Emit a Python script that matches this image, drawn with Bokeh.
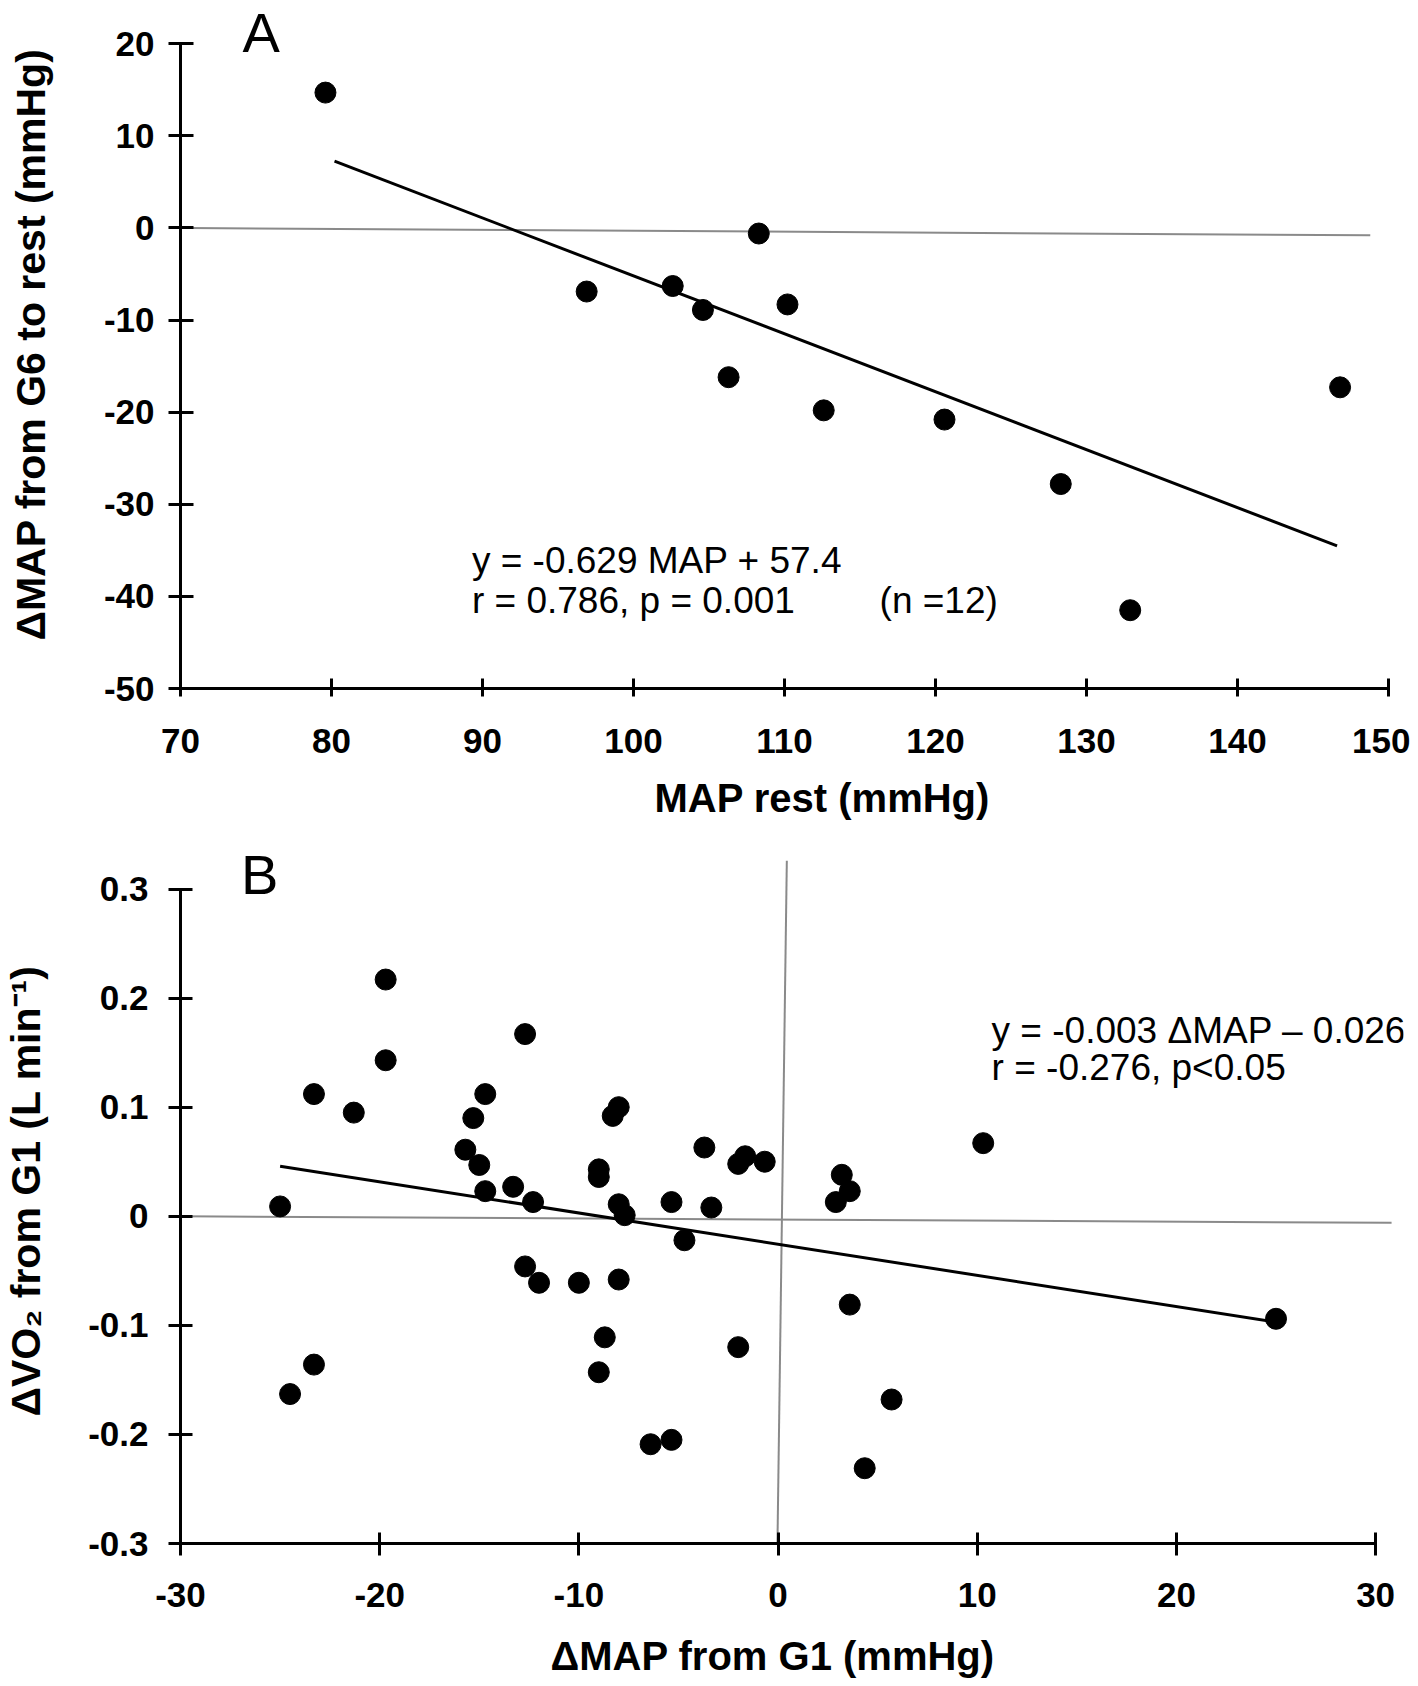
from bokeh.plotting import figure
from bokeh.models import Label, FixedTicker, PrintfTickFormatter, Range1d, Title
from bokeh.layouts import column
from bokeh.embed import file_html
from bokeh.resources import INLINE

# ---------------- Panel A data ----------------
map_rest = [79.6, 96.9, 102.6, 104.6, 106.3, 108.3, 110.2, 112.6, 120.6, 128.3, 132.9, 146.8]
dmap_g6 = [14.7, -6.9, -6.3, -8.9, -16.2, -0.6, -8.3, -19.8, -20.8, -27.8, -41.5, -17.3]
fit_a_slope = -0.629
fit_a_intercept = 57.7
fit_a_x = [80.2, 146.6]
zero_a_x = [70.5, 148.8]
zero_a_y = [0.0, -0.8]
ticks_a_x = [70, 80, 90, 100, 110, 120, 130, 140, 150]
ticks_a_y = [-50, -40, -30, -20, -10, 0, 10, 20]

# ---------------- Panel B data ----------------
dmap_g1 = [-25.0, -24.5, -23.3, -23.3, -21.3, -19.7, -19.7, -15.7, -15.3, -15.0,
           -14.7, -14.7, -13.3, -12.7, -12.7, -12.3, -12.0, -10.0, -9.0, -9.0,
           -9.0, -8.7, -8.3, -8.0, -8.0, -8.0, -7.7, -6.4, -5.35, -5.35,
           -4.7, -3.7, -3.35, -2.0, -2.0, -1.65, -0.67, 2.9, 3.2, 3.6,
           3.6, 4.35, 5.7, 10.3, 25.0]
dvo2_g1 = [0.009, -0.163, 0.112, -0.136, 0.095, 0.217, 0.143, 0.061, 0.090, 0.047,
           0.112, 0.023, 0.027, 0.167, -0.046, 0.013, -0.061, -0.061, 0.043, 0.036,
           -0.143, -0.111, 0.092, 0.100, 0.011, -0.058, 0.001, -0.209, 0.013, -0.205,
           -0.022, 0.063, 0.008, 0.048, -0.120, 0.055, 0.050, 0.013, 0.038, 0.023,
           -0.081, -0.231, -0.168, 0.067, -0.094]
fit_b_slope = -0.00286
fit_b_intercept = -0.0256
fit_b_x = [-25.0, 25.0]
zero_b_x = [-30.0, 30.8]
zero_b_y = [0.0, -0.006]
vert_b_x = [0.44, -0.03]
vert_b_y = [0.326, -0.3]
ticks_b_x = [-30, -20, -10, 0, 10, 20, 30]
ticks_b_y = [-0.3, -0.2, -0.1, 0, 0.1, 0.2, 0.3]

FONT = "Liberation Sans"


def style_axis(ax, tin, tout, standoff, label_standoff=None):
    ax.axis_line_width = 3
    ax.axis_line_color = "black"
    ax.major_tick_line_width = 3
    ax.major_tick_line_color = "black"
    ax.major_tick_in = tin
    ax.major_tick_out = tout
    ax.minor_tick_line_color = None
    ax.major_label_standoff = standoff
    ax.major_label_text_font = FONT
    ax.major_label_text_font_style = "bold"
    ax.major_label_text_font_size = "35px"
    ax.major_label_text_color = "black"
    ax.axis_label_text_font = FONT
    ax.axis_label_text_font_style = "bold"
    ax.axis_label_text_font_size = "41px"
    ax.axis_label_text_color = "black"
    if label_standoff is not None:
        ax.axis_label_standoff = label_standoff


def text_label(x, y, text, size, align="left"):
    return Label(x=x, y=y, text=text, text_align=align, text_baseline="alphabetic",
                 text_font=FONT, text_font_size=size, text_color="black")


def title(text, align, offset, standoff, size):
    return Title(text=text, align=align, offset=offset, standoff=standoff,
                 text_font=FONT, text_font_style="bold", text_font_size=size,
                 text_color="black")


# ================= Panel A =================
pa = figure(frame_width=1223, frame_height=688, x_range=Range1d(70, 151),
            y_range=Range1d(-50, 24.7), output_backend="svg", toolbar_location=None,
            min_border_left=177, min_border_right=10, min_border_top=0, min_border_bottom=150)
pa.grid.visible = False
pa.outline_line_color = None

pa.xaxis.ticker = FixedTicker(ticks=ticks_a_x)
pa.yaxis.ticker = FixedTicker(ticks=ticks_a_y)
pa.xaxis.formatter = PrintfTickFormatter(format="%d")
pa.yaxis.formatter = PrintfTickFormatter(format="%d")
pa.xaxis.bounds = (70, 150)
pa.yaxis.bounds = (-50, 20)
style_axis(pa.xaxis[0], 10, 8, 32)
style_axis(pa.yaxis[0], 13, 12, 14, 47)
pa.yaxis.axis_label = "ΔMAP from G6 to rest (mmHg)"
pa.add_layout(title("MAP rest (mmHg)", "left", 474, 37, "40px"), "below")

pa.line(zero_a_x, zero_a_y, line_color="#8a8a8a", line_width=2)
fit_a_y = [fit_a_slope * v + fit_a_intercept for v in fit_a_x]
pa.line(fit_a_x, fit_a_y, line_color="black", line_width=3)
pa.scatter(map_rest, dmap_g6, size=21, fill_color="black", line_color="black")

pa.add_layout(text_label(75.34, 21.2, "A", "56px", "center"))
pa.add_layout(text_label(89.3, -36.1, "y = -0.629 MAP + 57.4", "37px"))
pa.add_layout(text_label(89.3, -40.43, "r  = 0.786, p = 0.001", "37px"))
pa.add_layout(text_label(116.3, -40.43, "(n =12)", "37px"))

# ================= Panel B =================
pb = figure(frame_width=1223, frame_height=705, x_range=Range1d(-30, 31.4),
            y_range=Range1d(-0.3, 0.3463), output_backend="svg", toolbar_location=None,
            min_border_left=179, min_border_right=8, min_border_top=0, min_border_bottom=143)
pb.grid.visible = False
pb.outline_line_color = None

pb.xaxis.ticker = FixedTicker(ticks=ticks_b_x)
pb.yaxis.ticker = FixedTicker(ticks=ticks_b_y)
pb.xaxis.formatter = PrintfTickFormatter(format="%d")
pb.yaxis.formatter = PrintfTickFormatter(format="%g")
pb.xaxis.bounds = (-30, 30)
pb.yaxis.bounds = (-0.3, 0.3)
style_axis(pb.xaxis[0], 11, 12, 27)
style_axis(pb.yaxis[0], 12, 12, 20, 36)
pb.yaxis.axis_label = "ΔVO₂ from G1 (L min⁻¹)"
pb.add_layout(title("ΔMAP from G1 (mmHg)", "left", 370, 44, "40px"), "below")

pb.line(zero_b_x, zero_b_y, line_color="#8a8a8a", line_width=2)
pb.line(vert_b_x, vert_b_y, line_color="#8a8a8a", line_width=2)
fit_b_y = [fit_b_slope * v + fit_b_intercept for v in fit_b_x]
pb.line(fit_b_x, fit_b_y, line_color="black", line_width=3)
pb.scatter(dmap_g1, dvo2_g1, size=21, fill_color="black", line_color="black")

pb.add_layout(text_label(-26.03, 0.3129, "B", "56px", "center"))
pb.add_layout(text_label(10.72, 0.170, "y = -0.003 ΔMAP – 0.026", "37px"))
pb.add_layout(text_label(10.72, 0.1363, "r = -0.276, p<0.05", "37px"))

layout = column(pa, pb)
open("out.html", "w").write(file_html(layout, INLINE))
